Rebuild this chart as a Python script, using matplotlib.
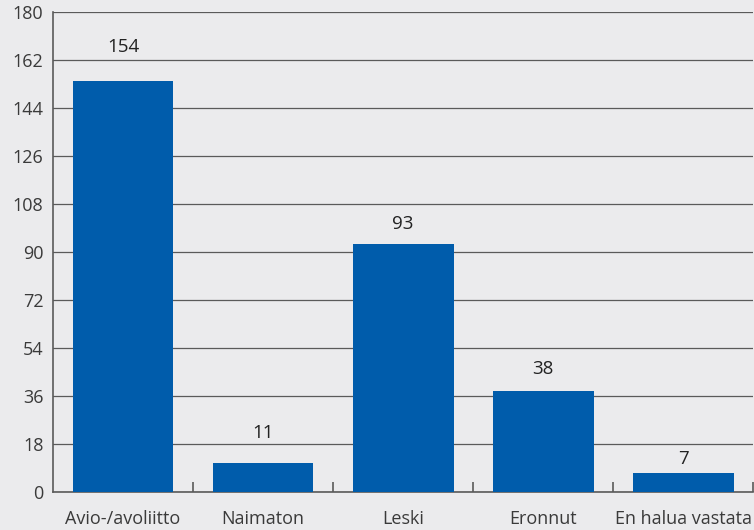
import matplotlib
matplotlib.use("Agg")
import matplotlib.pyplot as plt
import numpy as np

categories = ["Avio-/avoliitto", "Naimaton", "Leski", "Eronnut", "En halua vastata"]
values = [154, 11, 93, 38, 7]
yticks = [0, 18, 36, 54, 72, 90, 108, 126, 144, 162, 180]

# how far (points) each value label sits above its bar, as in the original
label_lift = [25, 21, 14.5, 15.5, 10.5]

bg = "#ebebed"
bar_color = "#005cab"
grid_color = "#5a5a5a"
text_color = "#3a3a3a"

plt.rcParams["font.family"] = ["Open Sans", "DejaVu Sans"]

fig = plt.figure(figsize=(7.54, 5.30), dpi=100, facecolor=bg)
ax = fig.add_axes([0.0703, 0.0717, 0.9287, 0.9057], facecolor=bg)

x = np.arange(len(categories))
ax.bar(x, values, width=0.72, color=bar_color, zorder=3)
for xi, v, dy in zip(x, values, label_lift):
    ax.annotate(str(v), (xi, v), xytext=(0, dy), textcoords="offset points",
                ha="center", va="center", fontsize=13.5, color="#222222")

ax.set_xlim(-0.5, len(categories) - 0.5)
ax.set_ylim(0, 180)
ax.set_yticks(yticks)
ax.set_yticklabels([str(t) for t in yticks], fontsize=13, color=text_color)
ax.yaxis.grid(True, color=grid_color, lw=0.9, zorder=0)
ax.tick_params(axis="y", length=0, pad=7)

ax.set_xticks(x)
ax.set_xticklabels(categories, fontsize=13, color=text_color)
ax.tick_params(axis="x", length=0, pad=13)
ax.set_xticks(np.arange(len(categories)) + 0.5, minor=True)
ax.tick_params(axis="x", which="minor", direction="in", length=7, width=1.2, color=grid_color)

for s in ["top", "right"]:
    ax.spines[s].set_visible(False)
for s in ["left", "bottom"]:
    ax.spines[s].set_color(grid_color)
    ax.spines[s].set_linewidth(1.2)

fig.savefig("out.png", facecolor=bg)
